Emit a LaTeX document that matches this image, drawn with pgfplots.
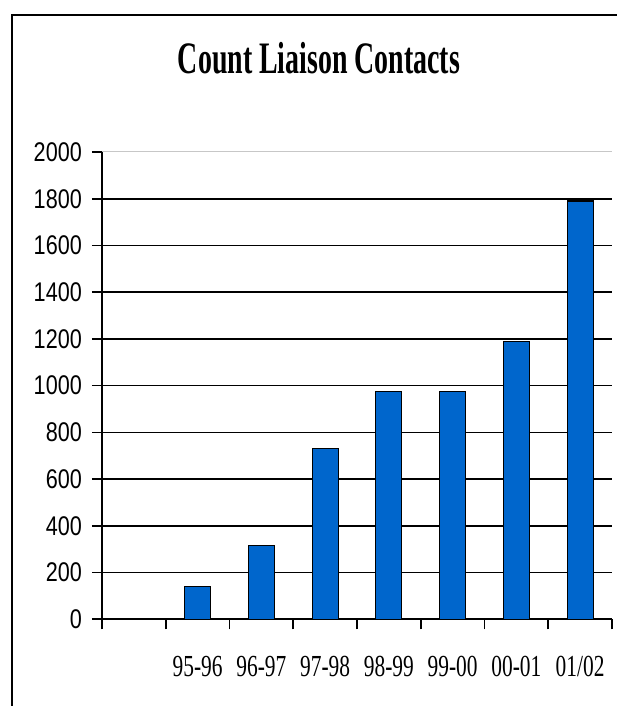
\documentclass[border=0pt]{standalone}
\usepackage{pgfplots}
\pgfplotsset{compat=1.18}
\usepackage{fontspec}
\setmainfont{Liberation Serif}
\newfontfamily\sansf{Liberation Sans}
\definecolor{barblue}{RGB}{0,102,204}
\newcommand\yl[1]{\scalebox{0.8}[1]{#1}}
\newcommand\xl[1]{\scalebox{0.7}[1]{#1}}
\begin{document}
\begin{tikzpicture}
\useasboundingbox (0pt,0pt) rectangle (617pt,706pt);
\draw[line width=2pt] (11.5pt,0pt) -- (11.5pt,690.5pt) -- (617pt,690.5pt);
\node[font=\bfseries\fontsize{45}{50}\selectfont, inner sep=0pt] at (319pt,647.5pt) {\scalebox{0.62}[1]{Count Liaison Contacts}};
\begin{axis}[
 at={(102pt,86.7pt)}, anchor=south west,
 scale only axis, width=510pt, height=467.3pt,
 xmin=0, xmax=8, ymin=0, ymax=2000,
 axis lines*=left,
 axis line style={line width=1.6pt, black},
 xtick={0,...,8}, xticklabels={},
 ytick={0,200,...,1800},
 yticklabels={\yl{0},\yl{200},\yl{400},\yl{600},\yl{800},\yl{1000},\yl{1200},\yl{1400},\yl{1600},\yl{1800}},
 extra y ticks={2000}, extra y tick labels={\yl{2000}},
 extra y tick style={grid=major, grid style={black!22, line width=1pt}},
 extra x ticks={1.5,2.5,3.5,4.5,5.5,6.5,7.5},
 extra x tick labels={\xl{95-96},\xl{96-97},\xl{97-98},\xl{98-99},\xl{99-00},\xl{00-01},\xl{01/02}},
 extra x tick style={grid=none, major tick length=0pt, xticklabel style={anchor=center, yshift=-47pt}},
 ymajorgrids, grid style={black, line width=1.6pt},
 tick align=outside, major tick length=10pt,
 tick style={black, line width=1.6pt},
 yticklabel style={font=\sansf\fontsize{27}{30}\selectfont, anchor=east, inner sep=0pt, xshift=-10pt},
 xticklabel style={font=\fontsize{30.6}{32}\selectfont},
]
\addplot[ybar, bar width=26pt, fill=barblue, draw=black, line width=1.2pt]
 coordinates {(1.5,140) (2.5,315) (3.5,730) (4.5,975) (5.5,975) (6.5,1190) (7.5,1790)};
\end{axis}
\end{tikzpicture}
\end{document}
